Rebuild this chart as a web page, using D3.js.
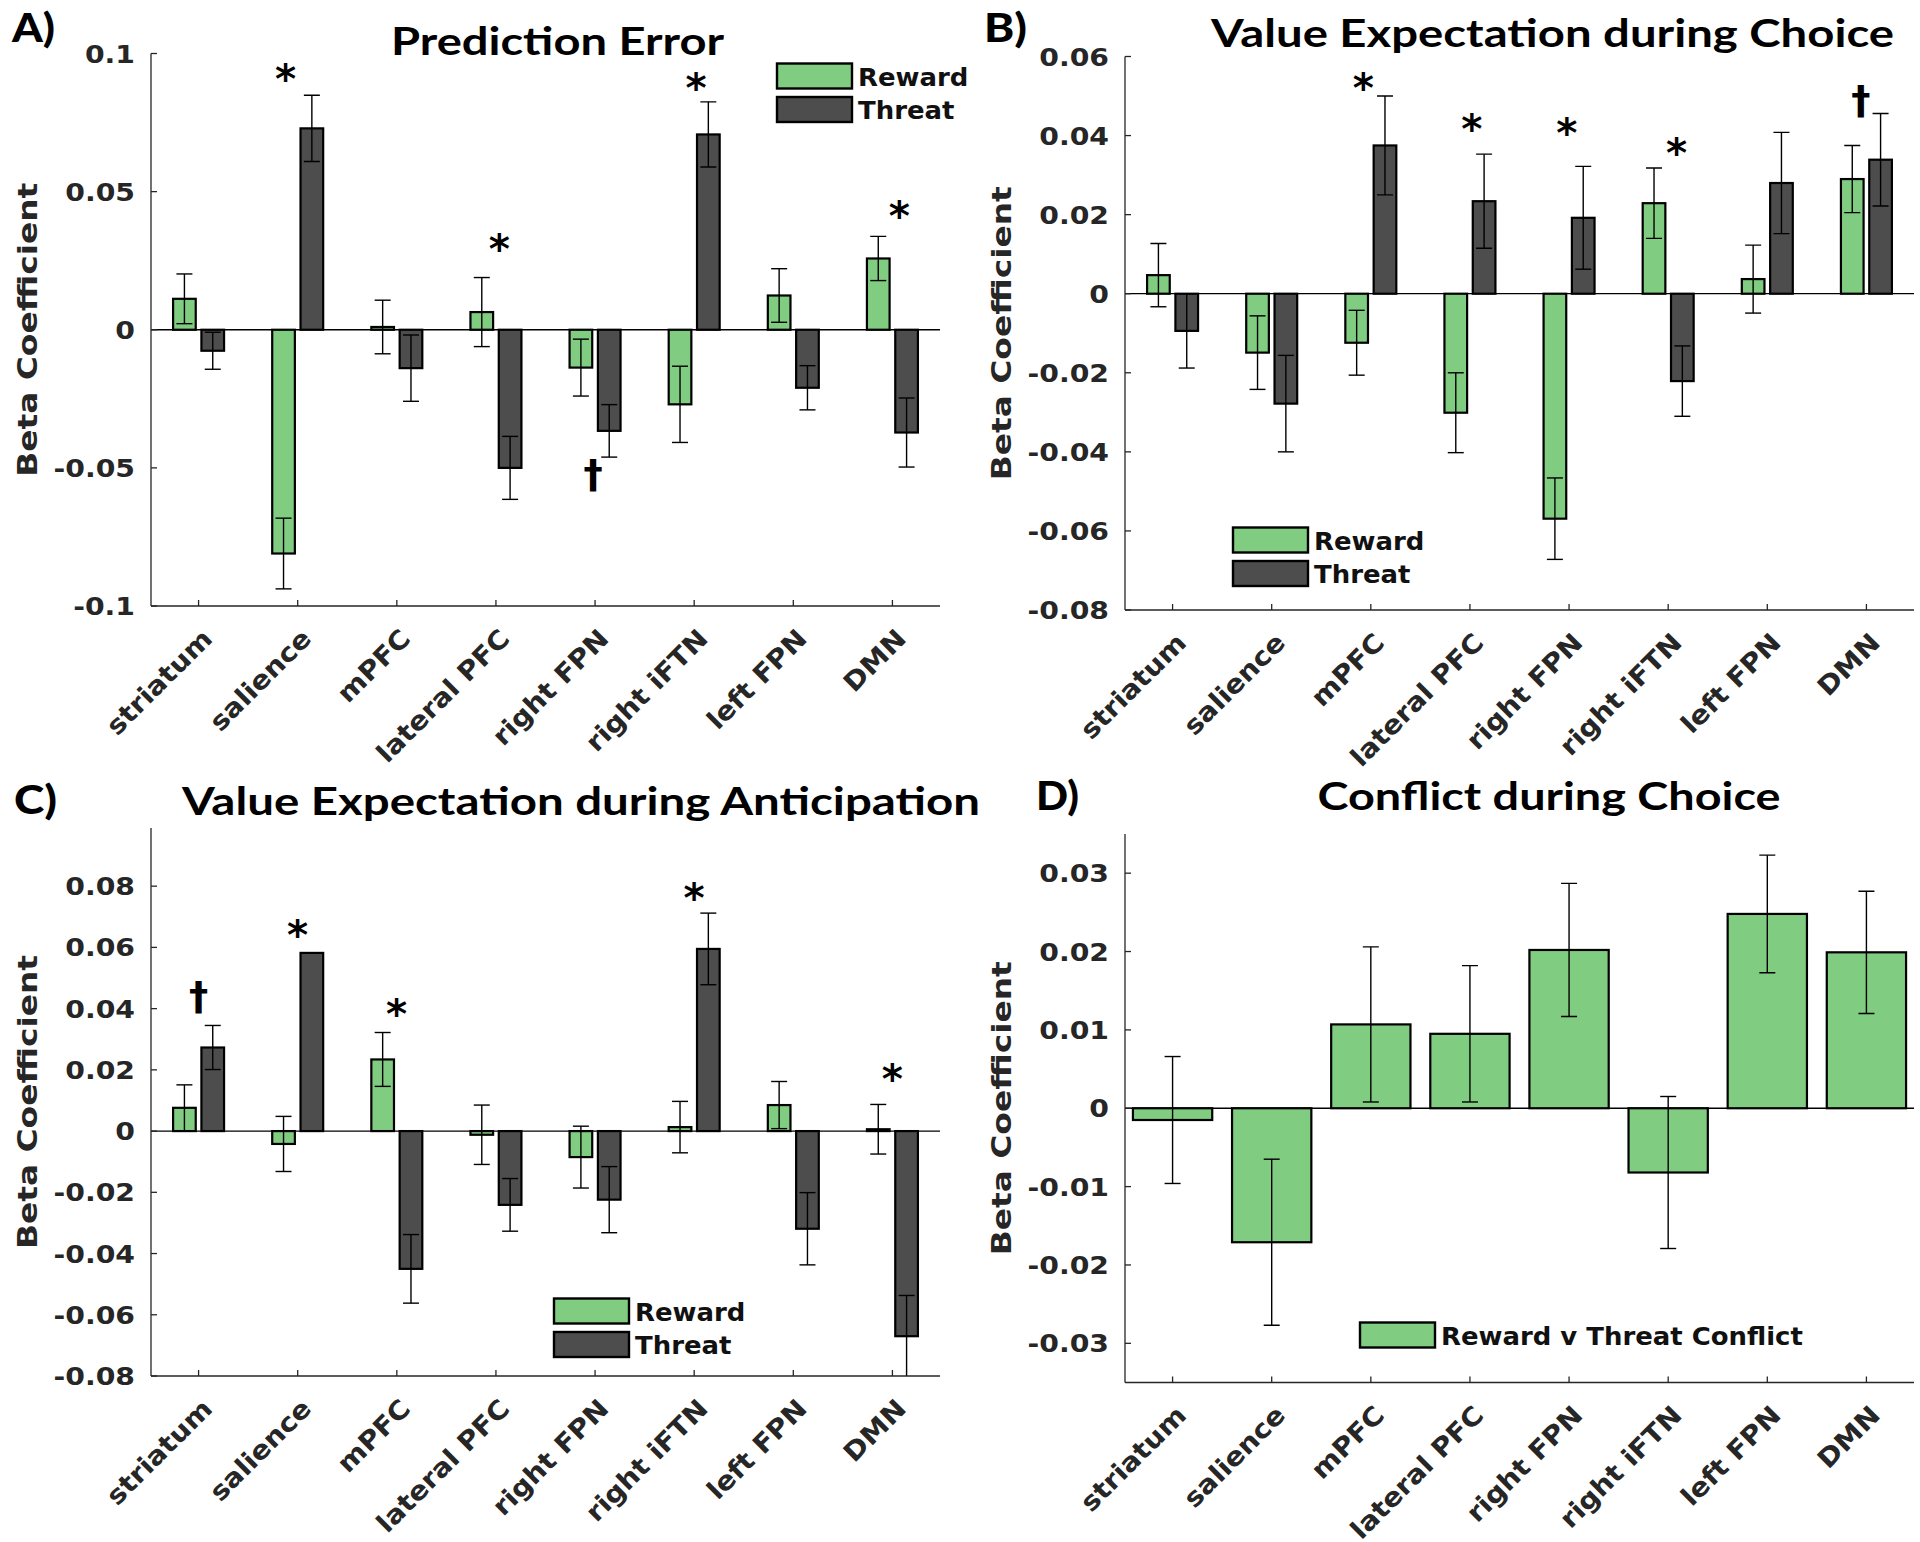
<!DOCTYPE html>
<html><head><meta charset="utf-8">
<script src="https://cdn.jsdelivr.net/npm/d3@7"></script>
<style>body{margin:0;background:#fff} svg{display:block}</style>
</head><body>
<svg id="chart" width="1920" height="1542"></svg>
<script>
// ---------------- DATA ----------------
const categories = ["striatum","salience","mPFC","lateral PFC","right FPN","right iFTN","left FPN","DMN"];
const seriesNames = ["Reward","Threat"];
const conflictName = ["Reward v Threat Conflict"];

// A) Prediction Error
const peReward   = [0.0112,-0.0810, 0.0010, 0.0064,-0.0137,-0.0270, 0.0124, 0.0258];
const peRewardSE = [0.0090, 0.0128, 0.0097, 0.0125, 0.0103, 0.0138, 0.0097, 0.0080];
const peThreat   = [-0.0076, 0.0729,-0.0139,-0.0500,-0.0366, 0.0707,-0.0210,-0.0372];
const peThreatSE = [0.0067, 0.0120, 0.0120, 0.0114, 0.0095, 0.0118, 0.0080, 0.0125];
const peTicks = [-0.1,-0.05,0,0.05,0.1];
const peTickLabels = ["-0.1","-0.05","0","0.05","0.1"];
const peNotes = [[2,-0.12,0.0933,"*"],[4,0.035,0.0318,"*"],[5,-0.02,-0.0528,"†"],[6,0.02,0.0901,"*"],[8,0.07,0.0437,"*"]];

// B) Value Expectation during Choice
const vcReward   = [0.0047,-0.0149,-0.0124,-0.0301,-0.0569, 0.0229, 0.0037, 0.0290];
const vcRewardSE = [0.0080, 0.0093, 0.0082, 0.0101, 0.0103, 0.0089, 0.0086, 0.0085];
const vcThreat   = [-0.0094,-0.0278, 0.0375, 0.0234, 0.0192,-0.0221, 0.0280, 0.0339];
const vcThreatSE = [0.0094, 0.0122, 0.0125, 0.0119, 0.0130, 0.0089, 0.0128, 0.0117];
const vcTicks = [-0.08,-0.06,-0.04,-0.02,0,0.02,0.04,0.06];
const vcTickLabels = ["-0.08","-0.06","-0.04","-0.02","0","0.02","0.04","0.06"];
const vcNotes = [[3,-0.075,0.0538,"*"],[4,0.02,0.0433,"*"],[5,-0.02,0.0425,"*"],[6,0.085,0.0373,"*"],[8,-0.055,0.0485,"†"]];

// C) Value Expectation during Anticipation
const vaReward   = [0.0076,-0.0042, 0.0234,-0.0012,-0.0085, 0.0013, 0.0085, 0.0006];
const vaRewardSE = [0.0075, 0.0090, 0.0088, 0.0097, 0.0101, 0.0084, 0.0077, 0.0081];
const vaThreat   = [0.0273, 0.0582,-0.0450,-0.0241,-0.0224, 0.0595,-0.0319,-0.0670];
const vaThreatSE = [0.0072, null,   0.0112, 0.0086, 0.0108, 0.0117, 0.0118, 0.0133];
const vaTicks = [-0.08,-0.06,-0.04,-0.02,0,0.02,0.04,0.06,0.08];
const vaTickLabels = ["-0.08","-0.06","-0.04","-0.02","0","0.02","0.04","0.06","0.08"];
const vaNotes = [[1,0,0.0436,"†"],[2,0,0.0664,"*"],[3,0,0.0404,"*"],[6,0,0.0783,"*"],[8,0,0.0192,"*"]];

// D) Conflict during Choice
const cfValue = [-0.0015,-0.0171, 0.0107, 0.0095, 0.0202,-0.0082, 0.0248, 0.0199];
const cfSE    = [0.0081, 0.0106, 0.0099, 0.0087, 0.0085, 0.0097, 0.0075, 0.0078];
const cfTicks = [-0.03,-0.02,-0.01,0,0.01,0.02,0.03];
const cfTickLabels = ["-0.03","-0.02","-0.01","0","0.01","0.02","0.03"];

// ---------------- STYLE / LAYOUT ----------------
const GREEN = "#80cc80", DARK = "#4d4d4d", INK = "#262626";
const AXF = "'DejaVu Sans', Verdana, sans-serif";
const TTF = "Lato, 'Open Sans', sans-serif";

const panels = [
  {label:"A)", lx:12, ly:42, title:"Prediction Error", tx:557.5, ty:55, tw:333,
   series:[[peReward,peRewardSE,GREEN],[peThreat,peThreatSE,DARK]], names:seriesNames,
   yDomain:[-0.1,0.1], ticks:peTicks, tickLabels:peTickLabels, notes:peNotes,
   x0:151, x1:940, yTop:53.5, yBot:606, leg:[777,63.5]},
  {label:"B)", lx:984, ly:42, title:"Value Expectation during Choice", tx:1552.5, ty:47, tw:683,
   series:[[vcReward,vcRewardSE,GREEN],[vcThreat,vcThreatSE,DARK]], names:seriesNames,
   yDomain:[-0.08,0.06], ticks:vcTicks, tickLabels:vcTickLabels, notes:vcNotes,
   x0:1125, x1:1914, yTop:56.5, yBot:610, leg:[1233,527.5]},
  {label:"C)", lx:14, ly:814, title:"Value Expectation during Anticipation", tx:581, ty:815, tw:798,
   series:[[vaReward,vaRewardSE,GREEN],[vaThreat,vaThreatSE,DARK]], names:seriesNames,
   yDomain:[-0.08,0.099], ticks:vaTicks, tickLabels:vaTickLabels, notes:vaNotes,
   x0:151, x1:940, yTop:828, yBot:1376, leg:[554,1298.5]},
  {label:"D)", lx:1036, ly:810, title:"Conflict during Choice", tx:1549, ty:810, tw:463,
   series:[[cfValue,cfSE,GREEN]], names:conflictName,
   yDomain:[-0.035,0.035], ticks:cfTicks, tickLabels:cfTickLabels, notes:[],
   x0:1125, x1:1914, yTop:834, yBot:1382.5, leg:[1360,1322.5]}
];

const svg = d3.select("#chart");
const ctx = document.createElement("canvas").getContext("2d");

function stretch(sel, f){
  sel.each(function(){
    const L = this.getComputedTextLength();
    this.setAttribute("textLength", (L*f).toFixed(2));
    this.setAttribute("lengthAdjust","spacingAndGlyphs");
  });
}
function fitTo(sel, w){
  sel.attr("textLength", w).attr("lengthAdjust","spacingAndGlyphs");
}
// ink metrics of a glyph at 100px
function ink(sym){
  ctx.font = "bold 100px 'DejaVu Sans'";
  ctx.textAlign = "left";
  const m = ctx.measureText(sym);
  return {L:m.actualBoundingBoxLeft, R:m.actualBoundingBoxRight, A:m.actualBoundingBoxAscent, D:m.actualBoundingBoxDescent};
}

function draw(){
panels.forEach((p,pi)=>{
  const g = svg.append("g");
  const x = d3.scaleLinear().domain([0.52,8.48]).range([p.x0,p.x1]);
  const y = d3.scaleLinear().domain(p.yDomain).range([p.yBot,p.yTop]);
  const nS = p.series.length;
  const gw = nS>1 ? 2/(2+1.5) : 0.8;           // MATLAB grouped-bar geometry
  const bw = nS>1 ? 0.8*gw/2 : 0.8;
  const off = i => nS>1 ? (i-0.5)*gw/2 : 0;
  const clipId = "clip"+pi;
  g.append("clipPath").attr("id",clipId).append("rect")
    .attr("x",p.x0).attr("y",p.yTop).attr("width",p.x1-p.x0).attr("height",p.yBot-p.yTop);
  const plot = g.append("g").attr("clip-path",`url(#${clipId})`);

  plot.append("line").attr("x1",p.x0).attr("x2",p.x1).attr("y1",y(0)).attr("y2",y(0))
    .attr("stroke","#000").attr("stroke-width",1.3);

  p.series.forEach(([vals,ses,col],si)=>{
    const pxw = x(bw)-x(0);
    plot.selectAll(null).data(vals).join("rect")
      .attr("x",(v,i)=>x(i+1+off(si))-pxw/2)
      .attr("width",pxw)
      .attr("y",v=>Math.min(y(v),y(0)))
      .attr("height",v=>Math.abs(y(v)-y(0)))
      .attr("fill",col).attr("stroke","#000").attr("stroke-width",2.2);
  });
  p.series.forEach(([vals,ses,col],si)=>{
    const eb = plot.selectAll(null).data(vals.map((v,i)=>({v,se:ses[i],i})).filter(d=>d.se!=null))
      .join("g").attr("stroke","#000").attr("stroke-width",1.4);
    const cx = d=>x(d.i+1+off(si));
    eb.append("line").attr("x1",cx).attr("x2",cx).attr("y1",d=>y(d.v-d.se)).attr("y2",d=>y(d.v+d.se));
    eb.append("line").attr("x1",d=>cx(d)-8).attr("x2",d=>cx(d)+8).attr("y1",d=>y(d.v-d.se)).attr("y2",d=>y(d.v-d.se));
    eb.append("line").attr("x1",d=>cx(d)-8).attr("x2",d=>cx(d)+8).attr("y1",d=>y(d.v+d.se)).attr("y2",d=>y(d.v+d.se));
  });

  // axes
  g.append("line").attr("x1",p.x0).attr("x2",p.x0).attr("y1",p.yTop).attr("y2",p.yBot).attr("stroke",INK).attr("stroke-width",1.3);
  g.append("line").attr("x1",p.x0).attr("x2",p.x1).attr("y1",p.yBot).attr("y2",p.yBot).attr("stroke",INK).attr("stroke-width",1.3);
  g.selectAll(null).data(p.ticks).join("line")
    .attr("x1",p.x0).attr("x2",p.x0+6).attr("y1",d=>y(d)).attr("y2",d=>y(d)).attr("stroke",INK).attr("stroke-width",1.3);
  g.selectAll(null).data(categories).join("line")
    .attr("x1",(d,i)=>x(i+1)).attr("x2",(d,i)=>x(i+1)).attr("y1",p.yBot).attr("y2",p.yBot-6).attr("stroke",INK).attr("stroke-width",1.3);

  const yt = g.selectAll(null).data(p.ticks).join("text")
    .attr("x",p.x0-16).attr("y",d=>y(d)).attr("dy","0.36em")
    .attr("text-anchor","end").attr("font-family",AXF).attr("font-weight","bold")
    .attr("font-size",25).attr("fill",INK).text((d,i)=>p.tickLabels[i]);
  stretch(yt,1.13);

  const xt = g.selectAll(null).data(categories).join("text")
    .attr("transform",(d,i)=>`translate(${x(i+1)+2},${p.yBot+21}) rotate(-45)`)
    .attr("dy","0.72em").attr("text-anchor","end")
    .attr("font-family",AXF).attr("font-weight","bold").attr("font-size",26).attr("fill",INK)
    .text(d=>d);
  stretch(xt,1.09);

  const yl = g.append("text")
    .attr("transform",`translate(${p.x0-114},${(p.yTop+p.yBot)/2}) rotate(-90)`)
    .attr("text-anchor","middle").attr("font-family",AXF).attr("font-weight","bold")
    .attr("font-size",27).attr("fill",INK).text("Beta Coefficient");
  fitTo(yl,294);

  const tt = g.append("text").attr("x",p.tx).attr("y",p.ty).attr("text-anchor","middle")
    .attr("font-family",TTF).attr("font-weight",700).attr("font-size",39).attr("fill","#000").text(p.title);
  fitTo(tt,p.tw);
  const pl = g.append("text").attr("x",p.lx).attr("y",p.ly)
    .attr("font-family",TTF).attr("font-weight",900).attr("font-size",39).attr("fill","#000").text(p.label);
  fitTo(pl,43);

  // legend
  const leg = g.append("g");
  p.series.forEach(([v,s,col],si)=>{
    const ly = p.leg[1] + si*33.5;
    leg.append("rect").attr("x",p.leg[0]).attr("y",ly).attr("width",75).attr("height",25)
      .attr("fill",col).attr("stroke","#000").attr("stroke-width",2.4);
    const lt = leg.append("text").attr("x",p.leg[0]+81).attr("y",ly+22)
      .attr("font-family",AXF).attr("font-weight","bold").attr("font-size",24).attr("fill","#111")
      .text(p.names[si]);
    stretch(lt,1.08);
  });

  // significance annotations: glyph ink box centred on (category+offset, value)
  p.notes.forEach(([ci,dx,val,sym])=>{
    const m = ink(sym);
    const targetH = sym==="*" ? 19 : 32;
    const s = targetH/(m.A+m.D);
    const fs = 100*s;
    const cx = x(ci+dx), cy = y(val);
    g.append("text")
      .attr("x", cx - (m.R - m.L)/2*s)
      .attr("y", cy + (m.A - m.D)/2*s)
      .attr("font-family",AXF).attr("font-weight","bold")
      .attr("font-size", fs.toFixed(2)).attr("fill","#000").text(sym);
  });
});
}
draw();
</script>
</body></html>
